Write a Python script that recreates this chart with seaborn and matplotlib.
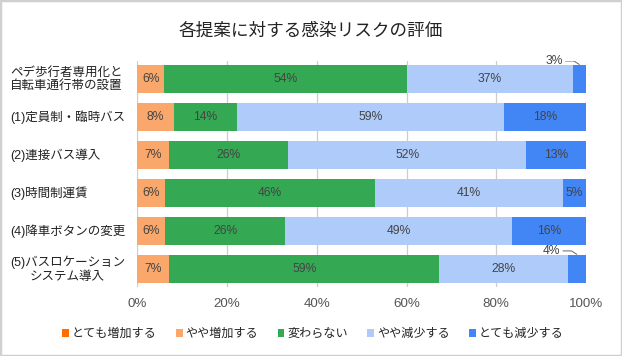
import matplotlib
matplotlib.use("Agg")
import matplotlib.pyplot as plt
from matplotlib.patches import Patch, Rectangle
from matplotlib.transforms import blended_transform_factory
import numpy as np
import pandas as pd
import seaborn as sns

categories = ["ペデ歩行者専用化と\n自転車通行帯の設置", "(1)定員制・臨時バス", "(2)連接バス導入",
              "(3)時間制運賃", "(4)降車ボタンの変更", "(5)バスロケーション\nシステム導入"]
series = ["とても増加する", "やや増加する", "変わらない", "やや減少する", "とても減少する"]
very_inc = [0, 0, 0, 0, 0, 0]
some_inc = [6, 8, 7, 6, 6, 7]
same = [54, 14, 26, 46, 26, 59]
some_dec = [37, 59, 52, 41, 49, 28]
very_dec = [3, 18, 13, 5, 16, 4]
colors = ["#FF6D01", "#F9A76B", "#34A853", "#AECBFA", "#4285F4"]

sns.set_style("white")
plt.rcParams["font.family"] = ["Liberation Sans", "Noto Sans CJK JP"]

vals = np.array([very_inc, some_inc, same, some_dec, very_dec], dtype=float)
share = vals / vals.sum(axis=0) * 100  # percent-stacked, like the sheet
cum = np.cumsum(share, axis=0)
df = pd.DataFrame({"cat": categories})

fig = plt.figure(figsize=(6.22, 3.56), dpi=100)
ax = fig.add_axes([137.3 / 622, 1 - 287 / 356, 448.7 / 622, 226 / 356])

# draw from the full bar down so the shorter cumulative bars sit on top
for i in range(len(series) - 1, -1, -1):
    df["v"] = cum[i]
    sns.barplot(data=df, x="v", y="cat", color=colors[i], orient="h", width=0.745,
                errorbar=None, saturation=1, linewidth=0, ax=ax)

for r in range(len(categories)):
    for i in range(len(series)):
        v = vals[i, r]
        if v == 0:
            continue
        mid = cum[i, r] - share[i, r] / 2
        if v >= 5:
            ax.text(mid, r, "%d%%" % v, ha="center", va="center", fontsize=8.7, color="#444444")
        else:
            ax.text(mid - 5.6, r - 0.47, "%d%%" % v, ha="center", va="center", fontsize=8.7, color="#444444")
            ax.plot([mid - 3.1, mid - 1.2, mid], [r - 0.48, r - 0.48, r - 0.39], color="#666666", lw=0.7)

ax.set_xlim(0, 100)
ax.set_ylim(5.47, -0.48)
ax.set_xticks([0, 20, 40, 60, 80, 100])
ax.set_xticklabels(["0%", "20%", "40%", "60%", "80%", "100%"])
ax.tick_params(axis="x", length=0, pad=8, labelsize=9.6, labelcolor="#555555")
ax.set_yticks([])
ax.set_xlabel("")
ax.set_ylabel("")
ax.grid(axis="x", color="#cccccc", lw=0.9)
ax.set_axisbelow(True)
for s in ax.spines.values():
    s.set_visible(False)

tr = blended_transform_factory(fig.transFigure, ax.transData)
for r, c in enumerate(categories):
    ax.text(10 / 622, r, c, transform=tr, ha="left", va="center", multialignment="center",
            fontsize=9, color="#222222", linespacing=1.15)

fig.text(0.5, 1 - 31 / 356, "各提案に対する感染リスクの評価", ha="center", va="center",
         fontsize=12.7, color="#222222")

handles = [Patch(facecolor=c, edgecolor="none") for c in colors]
fig.legend(handles, series, loc="center", bbox_to_anchor=(0.503, 1 - 334 / 356), ncol=5,
           frameon=False, fontsize=8.7, handlelength=0.55, handleheight=0.7, handletextpad=0.25,
           columnspacing=1.6, labelcolor="#222222")

fig.patches.append(Rectangle((0, 0), 1, 1, transform=fig.transFigure, fill=False,
                             edgecolor="#d0d0d0", lw=2.5))

fig.savefig("out.png", dpi=100)
